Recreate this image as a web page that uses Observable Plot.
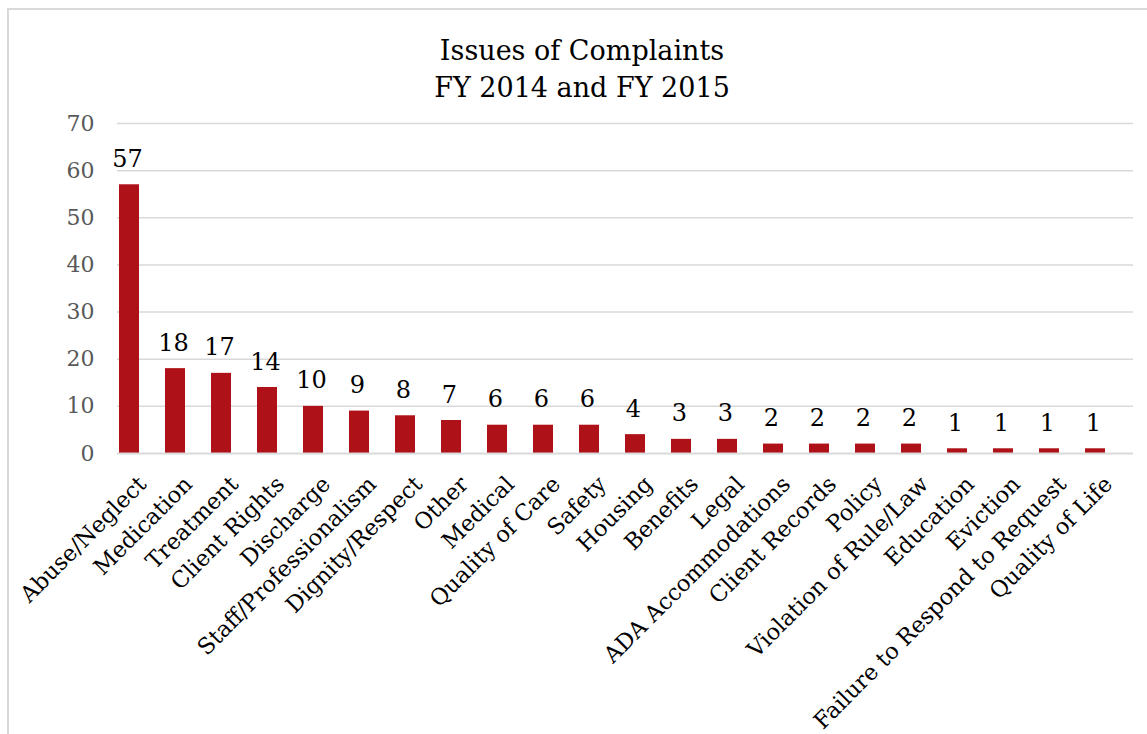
<!DOCTYPE html>
<html>
<head>
<meta charset="utf-8">
<script src="https://cdn.jsdelivr.net/npm/d3@7"></script>
<script src="https://cdn.jsdelivr.net/npm/@observablehq/plot@0.6"></script>
<style>
  html, body { margin: 0; padding: 0; background: #fff; }
  body { width: 1147px; height: 734px; position: relative; overflow: hidden; font-family: "DejaVu Serif", serif; }
  #frame { position: absolute; left: 7px; top: 8px; width: 1160px; height: 760px; border: 2px solid #d9d9d9; box-sizing: border-box; }
  #title { position: absolute; left: 0; top: 32px; width: 1164px; text-align: center; font-size: 27px; line-height: 37px; color: #000; }
  #chart { position: absolute; left: 0; top: 110px; }
</style>
</head>
<body>
<div id="frame"></div>
<div id="title">Issues of Complaints<br>FY 2014 and FY 2015</div>
<div id="chart"></div>
<script>
const categories = ["Abuse/Neglect", "Medication", "Treatment", "Client Rights", "Discharge", "Staff/Professionalism", "Dignity/Respect", "Other", "Medical", "Quality of Care", "Safety", "Housing", "Benefits", "Legal", "ADA Accommodations", "Client Records", "Policy", "Violation of Rule/Law", "Education", "Eviction", "Failure to Respond to Request", "Quality of Life"];
const counts = [57, 18, 17, 14, 10, 9, 8, 7, 6, 6, 6, 4, 3, 3, 2, 2, 2, 2, 1, 1, 1, 1];
const yTicks = [0, 10, 20, 30, 40, 50, 60, 70];

const data = categories.map((c, i) => ({category: c, count: counts[i]}));

const chart = Plot.plot({
  width: 1147,
  height: 624,
  marginTop: 13,
  marginBottom: 281,
  marginLeft: 117,
  marginRight: 14,
  style: {fontFamily: "DejaVu Serif, serif", background: "transparent", overflow: "visible"},
  x: {domain: categories, padding: 0, label: null},
  y: {domain: [0, 70], label: null},
  marks: [
    Plot.ruleY(yTicks.filter(d => d > 0), {stroke: "#d9d9d9", strokeWidth: 1.5}),
    Plot.barY(data, {x: "category", y: "count", fill: "#ae1118", insetLeft: 0, insetRight: 26}),
    Plot.ruleY([0], {stroke: "#d9d9d9", strokeWidth: 2}),
    Plot.text(data, {x: "category", y: "count", text: d => String(d.count), dx: -15, dy: -18, lineAnchor: "bottom", fontSize: 24, fill: "#000"}),
    Plot.axisY({ticks: yTicks, tickSize: 0, tickPadding: 23, fontSize: 22, color: "#595959", label: null, tickFormat: d => String(d)}),
    Plot.axisX({tickSize: 0, tickPadding: 27, tickRotate: -45, fontSize: 22.5, color: "#000", label: null})
  ]
});
document.getElementById("chart").appendChild(chart);
</script>
</body>
</html>
